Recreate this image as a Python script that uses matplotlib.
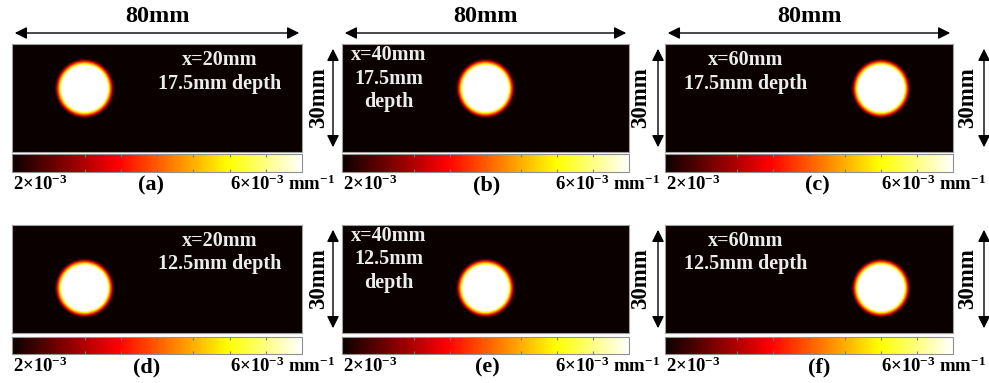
import numpy as np
import matplotlib
matplotlib.use("Agg")
import matplotlib.pyplot as plt
from matplotlib.cm import ScalarMappable
from matplotlib.colors import Normalize
from matplotlib.patches import FancyArrowPatch

plt.rcParams['font.family'] = ['Liberation Serif', 'DejaVu Serif']
plt.rcParams['font.weight'] = 'bold'
plt.rcParams['mathtext.fontset'] = 'custom'
plt.rcParams['mathtext.rm'] = 'Liberation Serif:bold'
plt.rcParams['mathtext.it'] = 'Liberation Serif:bold'
plt.rcParams['mathtext.bf'] = 'Liberation Serif:bold'

# phantom / reconstruction data
field_w = 80.0          # mm
field_h = 30.0          # mm
target_x = [20, 40, 60]          # mm, one per column
target_depth = [17.5, 12.5]      # mm, one per row
target_radius = 7.0              # mm
mua_background = 2e-3            # mm^-1
mua_target = 7e-3                # mm^-1
cbar_min = 2e-3
cbar_max = 6e-3
panel_tags = [['(a)', '(b)', '(c)'], ['(d)', '(e)', '(f)']]
label_text = [['x=20mm\n17.5mm depth', 'x=40mm\n17.5mm\ndepth', 'x=60mm\n17.5mm depth'],
              ['x=20mm\n12.5mm depth', 'x=40mm\n12.5mm\ndepth', 'x=60mm\n12.5mm depth']]

W, H = 989, 383
fig = plt.figure(figsize=(W / 100, H / 100), dpi=100)


def fx(px):
    return px / W


def fy(py):
    return 1 - py / H


def add_axes_px(x0, y0, x1, y1):
    return fig.add_axes([fx(x0), fy(y1), fx(x1) - fx(x0), (y1 - y0) / H])


col_px = [(12, 302), (342, 629), (665, 953)]
row_img_px = [(44, 152), (225, 333)]
row_cb_px = [(154, 172), (337, 354)]
vert_arrow_x = [333, 658, 984]
vert_text_x = [319, 641, 968]
label_cx = [220, 389, 746]
tag_cx = [[151, 487, 817], [147, 487, 819]]

norm = Normalize(vmin=cbar_min, vmax=cbar_max)
cmap = plt.get_cmap('hot')

# sample grid (0.5 mm)
xs = np.arange(0.25, field_w, 0.5)
ys = np.arange(0.25, field_h, 0.5)
XX, YY = np.meshgrid(xs, ys)

for r in range(2):
    for c in range(3):
        x0, x1 = col_px[c]
        y0, y1 = row_img_px[r]
        ax = add_axes_px(x0, y0, x1, y1)
        d = np.hypot(XX - target_x[c], YY - target_depth[r])
        w = np.clip((target_radius - d) / 2.2 + 0.5, 0, 1)
        img = mua_background + (mua_target - mua_background) * w
        ax.imshow(img, origin='lower', extent=[0, field_w, 0, field_h], cmap=cmap, norm=norm,
                  interpolation='bilinear', aspect='auto')
        ax.set_xticks([])
        ax.set_yticks([])
        for s in ax.spines.values():
            s.set_color('#a0a0a0')
            s.set_linewidth(0.8)

        lines = label_text[r][c].split('\n')
        first = 11 if len(lines) > 2 else 16
        for i, t in enumerate(lines):
            fig.text(fx(label_cx[c]), fy(y0 + first + 23.5 * i), t, color='#ececec',
                     fontsize=14.5, ha='center', va='center')

        # colour bar
        cy0, cy1 = row_cb_px[r]
        cax = add_axes_px(x0, cy0, x1, cy1)
        cb = fig.colorbar(ScalarMappable(norm=norm, cmap=cmap), cax=cax, orientation='horizontal')
        cb.outline.set_edgecolor('#909090')
        cb.outline.set_linewidth(0.8)
        cax.set_xticks([3e-3, 3.5e-3, 4e-3, 4.5e-3, 5e-3, 5.5e-3])
        cax.tick_params(axis='x', direction='in', length=2, color='#777777', labelbottom=False,
                        top=True, bottom=True)

        ly = cy1 + 12
        fig.text(fx(x0 + 1), fy(ly), r'2$\times$10$^{-3}$', fontsize=13.5, ha='left', va='center')
        fig.text(fx(vert_arrow_x[c] + 2), fy(ly), r'6$\times$10$^{-3}$ mm$^{-1}$',
                 fontsize=13.5, ha='right', va='center')
        fig.text(fx(tag_cx[r][c]), fy(ly + 1), panel_tags[r][c], fontsize=16, ha='center', va='center')

        # vertical 30mm arrow
        fig.add_artist(FancyArrowPatch(
            (fx(vert_arrow_x[c]), fy(y0 + 2)), (fx(vert_arrow_x[c]), fy(y1 - 2)),
            transform=fig.transFigure, arrowstyle='<|-|>', mutation_scale=18, color='black', lw=1.0))
        fig.text(fx(vert_text_x[c]), fy((y0 + y1) / 2), '30mm', fontsize=16.5, rotation=90,
                 ha='center', va='center')

# horizontal 80mm arrows on top row only
for c in range(3):
    x0, x1 = col_px[c]
    fig.add_artist(FancyArrowPatch(
        (fx(x0), fy(33)), (fx(x1), fy(33)),
        transform=fig.transFigure, arrowstyle='<|-|>', mutation_scale=18, color='black', lw=1.0))
    fig.text(fx((x0 + x1) / 2), fy(17), '80mm', fontsize=17.5, ha='center', va='center')

fig.savefig('out.png', dpi=100, facecolor='white')
